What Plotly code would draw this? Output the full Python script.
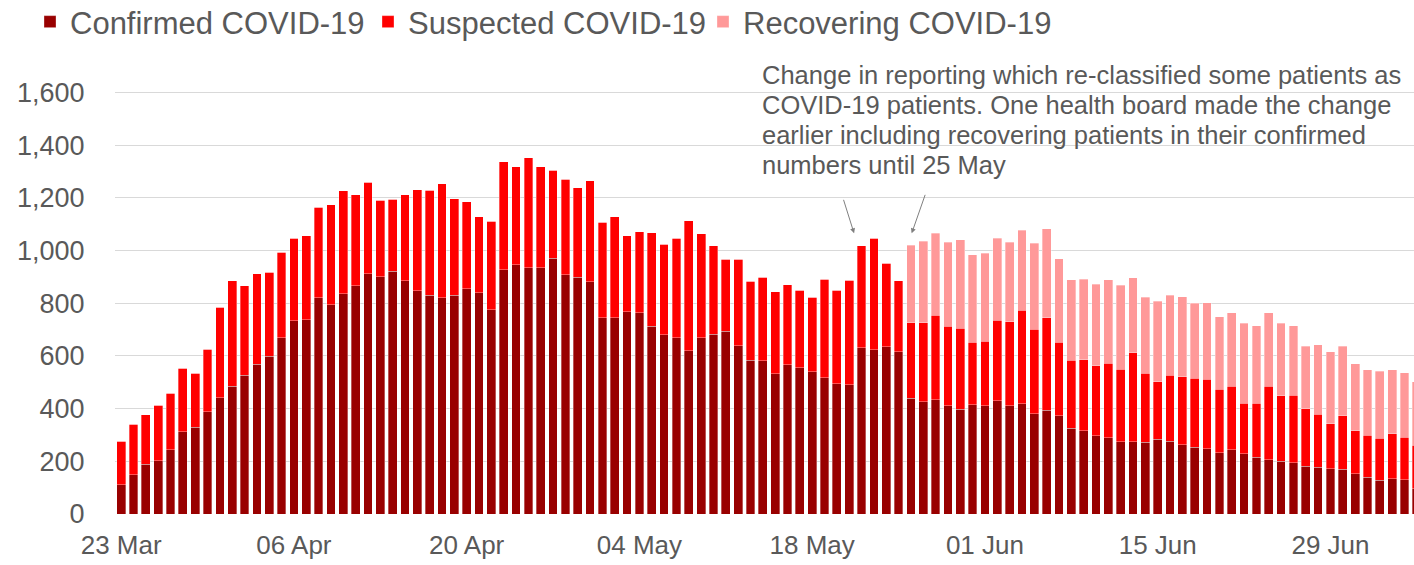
import pandas as pd
import plotly.graph_objects as go

# daily hospital inpatients
start_date = "2020-03-23"

confirmed = [111, 149, 188, 202, 243, 312, 329, 388, 441, 484, 526, 568, 598, 668,
             734, 737, 821, 794, 836, 867, 912, 901, 921, 886, 848, 830, 820, 831,
             855, 840, 775, 927, 946, 935, 935, 970, 907, 898, 882, 745, 745, 767,
             764, 712, 681, 668, 620, 669, 682, 694, 639, 583, 581, 533, 567, 555,
             539, 517, 495, 491, 631, 624, 634, 616, 440, 426, 434, 410, 397, 414,
             410, 430, 410, 419, 381, 394, 373, 326, 316, 297, 290, 275, 275, 272,
             283, 277, 263, 254, 248, 233, 243, 228, 216, 205, 200, 194, 181, 178,
             172, 170, 152, 140, 129, 133, 130, 95]

suspected = [165, 191, 189, 210, 215, 241, 206, 237, 343, 401, 341, 344, 320, 325,
             312, 319, 343, 379, 391, 345, 347, 289, 273, 326, 382, 399, 434, 366,
             330, 288, 336, 410, 371, 417, 382, 334, 364, 340, 383, 362, 383, 289,
             307, 356, 342, 378, 493, 395, 335, 272, 327, 300, 317, 311, 303, 295,
             283, 374, 355, 396, 386, 422, 317, 270, 285, 300, 321, 302, 308, 237,
             246, 306, 319, 355, 321, 351, 278, 257, 270, 265, 283, 275, 337, 263,
             219, 249, 257, 262, 263, 241, 242, 192, 204, 280, 248, 256, 219, 201,
             170, 203, 164, 159, 159, 171, 161, 165]

recovering = [0] * 64 + [295, 309, 311, 320, 336, 333, 333, 310, 302, 303, 326, 338,
                         318, 305, 305, 310, 315, 318, 285, 287, 305, 305, 305, 283,
                         291, 274, 278, 304, 295, 278, 276, 265, 236, 264, 274, 263,
                         255, 249, 253, 244, 245, 242]

series_names = ["Confirmed COVID-19", "Suspected COVID-19", "Recovering COVID-19"]
series_colors = ["#990000", "#ff0000", "#ff9999"]

y_ticks = [0, 200, 400, 600, 800, 1000, 1200, 1400, 1600]

note_lines = ["Change in reporting which re-classified some patients as",
              "COVID-19 patients. One health board made the change",
              "earlier including recovering patients in their confirmed",
              "numbers until 25 May"]

dates = pd.date_range(start_date, periods=len(confirmed), freq="D")

FONT = "Liberation Sans, Arial, sans-serif"
GREY = "#595959"
W, H = 1414, 565

fig = go.Figure()
legend_ids = ["legend", "legend2", "legend3"]
for name, values, color, lg in zip(series_names, [confirmed, suspected, recovering],
                                   series_colors, legend_ids):
    fig.add_trace(go.Bar(
        x=dates,
        y=values,
        name=name,
        legend=lg,
        marker=dict(color=color, line=dict(color="rgba(255,255,255,0.55)", width=0.6)),
    ))

# arrows pointing at the reporting change
for tip, dx, dy in [("2020-05-21 09:30", -11, -35), ("2020-05-26 01:30", 14, -40)]:
    fig.add_annotation(
        x=tip, y=1065, xref="x", yref="y", text="",
        showarrow=True, ax=dx, ay=dy, arrowhead=2, arrowsize=1,
        arrowwidth=1, arrowcolor="#7f7f7f", standoff=0,
    )

# note text, one annotation per line so the spacing matches
for i, line in enumerate(note_lines):
    fig.add_annotation(
        text=line, xref="paper", yref="paper",
        x=(760 - 115) / (W - 115), y=(513.7 - 75 - 30 * i) / (513.7 - 66),
        xanchor="left", yanchor="middle", align="left", showarrow=False,
        font=dict(family=FONT, size=25.5, color=GREY),
    )

legend_style = dict(
    orientation="h", xref="container", yref="container",
    y=1 - 22 / H, xanchor="left", yanchor="middle",
    font=dict(family=FONT, size=31, color=GREY),
    bgcolor="rgba(0,0,0,0)",
)

fig.update_layout(
    barmode="stack",
    bargap=0.29,
    width=W,
    height=H,
    margin=dict(l=115, r=0, t=66, b=51),
    plot_bgcolor="white",
    paper_bgcolor="white",
    font=dict(family=FONT, color=GREY),
    showlegend=True,
    legend=dict(x=30 / W, **legend_style),
    legend2=dict(x=368 / W, **legend_style),
    legend3=dict(x=703 / W, **legend_style),
    xaxis=dict(
        type="date",
        range=["2020-03-22 12:00", "2020-07-05 18:30"],
        tick0=start_date,
        dtick=14 * 86400000,
        tickformat="%d %b",
        showgrid=False,
        ticks="outside",
        ticklen=8,
        tickcolor="rgba(0,0,0,0)",
        tickfont=dict(family=FONT, size=26, color=GREY),
        showline=False,
        zeroline=False,
        automargin=False,
    ),
    yaxis=dict(
        range=[0, 1700],
        tickvals=y_ticks,
        tickformat=",d",
        showgrid=True,
        gridcolor="#d9d9d9",
        gridwidth=1,
        zeroline=False,
        ticks="outside",
        ticklen=24,
        tickcolor="rgba(0,0,0,0)",
        tickfont=dict(family=FONT, size=27, color=GREY),
        automargin=False,
    ),
)

fig.write_html("out.html", config={"displayModeBar": False},
               post_script="document.body.style.margin = '0';")
